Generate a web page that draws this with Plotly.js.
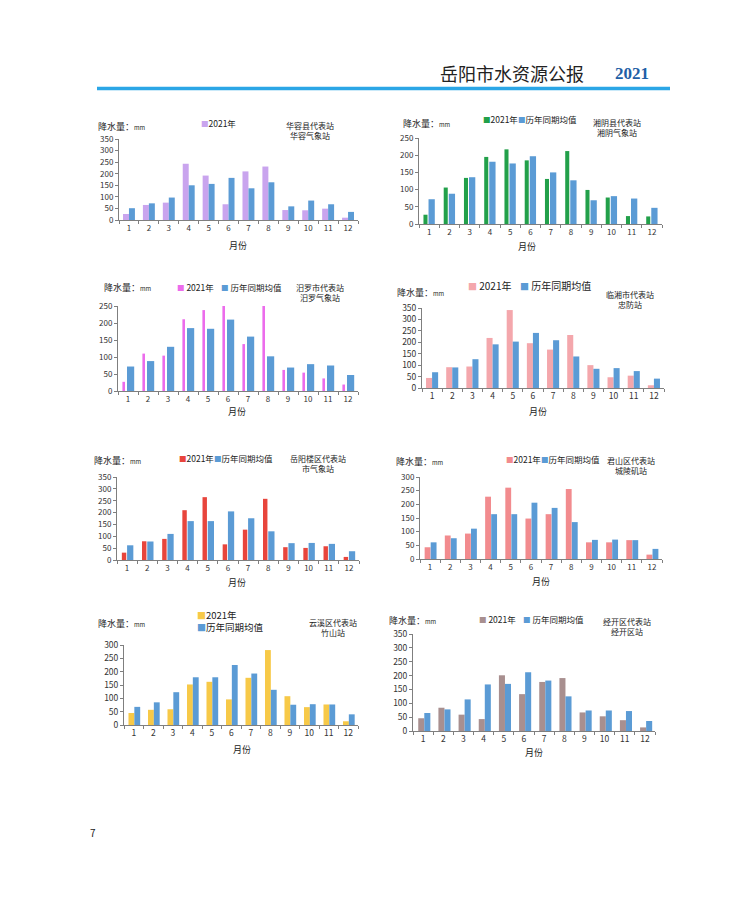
<!DOCTYPE html>
<html><head><meta charset="utf-8">
<script src="https://cdn.plot.ly/plotly-3.0.1.min.js"></script>
<style>html,body{margin:0;padding:0;background:#fff}#chart{width:750px;height:903px}</style>
</head><body><div id="chart"></div>
<script>
const months = ['1','2','3','4','5','6','7','8','9','10','11','12'];

const huarong2021 = [26, 65, 75, 243, 192, 68, 210, 231, 43, 42, 49, 10];
const huarongAvg  = [51, 72, 97, 150, 156, 182, 137, 163, 59, 84, 68, 35];

const xiangyin2021 = [27, 106, 134, 195, 217, 185, 131, 212, 99, 77, 23, 22];
const xiangyinAvg  = [72, 88, 136, 181, 176, 197, 150, 127, 69, 81, 74, 47];

const miluo2021 = [27, 110, 104, 211, 238, 251, 138, 251, 62, 54, 37, 19];
const miluoAvg  = [72, 88, 130, 185, 183, 210, 160, 102, 69, 79, 75, 47];

const linxiang2021 = [44, 91, 94, 219, 341, 196, 168, 232, 100, 47, 54, 12];
const linxiangAvg  = [69, 90, 126, 191, 203, 241, 209, 138, 84, 87, 74, 41];

const yueyanglou2021 = [31, 79, 89, 210, 265, 66, 128, 258, 54, 51, 58, 13];
const yueyanglouAvg  = [62, 78, 110, 164, 164, 205, 176, 121, 71, 72, 68, 37];

const junshan2021 = [43, 86, 93, 228, 261, 148, 164, 256, 61, 61, 69, 16];
const junshanAvg  = [61, 76, 111, 164, 164, 206, 187, 135, 70, 71, 69, 37];

const yunxi2021 = [45, 57, 59, 152, 162, 96, 177, 281, 108, 67, 77, 14];
const yunxiAvg  = [68, 85, 123, 179, 179, 225, 193, 132, 76, 78, 77, 40];

const jingkai2021 = [46, 84, 59, 43, 201, 133, 177, 191, 67, 53, 39, 13];
const jingkaiAvg  = [65, 78, 114, 168, 170, 212, 182, 125, 74, 74, 72, 36];

const seriesNames = ['2021年', '历年同期均值'];
const yLabel = '降水量：';
const xLabel = '月份';

const W = 750, H = 903;
const BLUE = '#5B9BD5';
const FONT = '"Noto Sans CJK SC", "Noto Sans", sans-serif';

const panels = [
  {d21: huarong2021, avg: huarongAvg, c21: '#C9A4EE', ymax: 350,
   x0: 119, x1: 358, yt: 139, yb: 220, o21: -0.3, w21: 0.3, oA: 0, wA: 0.3, tf: 8,
   st: ['华容县代表站', '华容气象站'], stx: 310, sty: 130,
   yl: [97, 126], leg: 'single', lx: 200, ly: 123, xl: [238, 245]},
  {d21: xiangyin2021, avg: xiangyinAvg, c21: '#22A04A', ymax: 250,
   x0: 419, x1: 662, yt: 138, yb: 224, o21: -0.28, w21: 0.2, oA: -0.03, wA: 0.31, tf: 8,
   st: ['湘阴县代表站', '湘阴气象站'], stx: 617, sty: 127,
   yl: [402, 124], leg: 'row', lx: 482, ly: 119, gap: 0, xl: [527, 246]},
  {d21: miluo2021, avg: miluoAvg, c21: '#EC6CEC', ymax: 250,
   x0: 118, x1: 358, yt: 306, yb: 391, o21: -0.28, w21: 0.13, oA: -0.05, wA: 0.36, tf: 8,
   st: ['汨罗市代表站', '汨罗气象站'], stx: 320, sty: 292,
   yl: [103, 287], leg: 'row', lx: 176, ly: 287, gap: 44, xl: [237, 412]},
  {d21: linxiang2021, avg: linxiangAvg, c21: '#F4A7AC', ymax: 350,
   x0: 422, x1: 664, yt: 308, yb: 388, o21: -0.3, w21: 0.3, oA: 0, wA: 0.3, tf: 8.5, big: true,
   st: ['临湘市代表站', '忠防站'], stx: 630, sty: 299,
   yl: [396, 293], leg: 'row', lx: 467, ly: 286, gap: 52, xl: [538, 411]},
  {d21: yueyanglou2021, avg: yueyanglouAvg, c21: '#E8453C', ymax: 350,
   x0: 117, x1: 359, yt: 477, yb: 560, o21: -0.26, w21: 0.22, oA: 0.0, wA: 0.31, tf: 8,
   st: ['岳阳楼区代表站', '市气象站'], stx: 318, sty: 463,
   yl: [93, 460], leg: 'row', lx: 178, ly: 458, gap: 0, xl: [237, 582]},
  {d21: junshan2021, avg: junshanAvg, c21: '#F28B8E', ymax: 300,
   x0: 420, x1: 662, yt: 477, yb: 559, o21: -0.27, w21: 0.29, oA: 0.03, wA: 0.29, tf: 8,
   st: ['君山区代表站', '城陵矶站'], stx: 631, sty: 465,
   yl: [395, 461], leg: 'row', lx: 505, ly: 459, gap: 0, xl: [541, 581]},
  {d21: yunxi2021, avg: yunxiAvg, c21: '#F7C948', ymax: 300,
   x0: 124, x1: 358, yt: 645, yb: 725, o21: -0.27, w21: 0.3, oA: 0.03, wA: 0.3, tf: 8.5, big: true,
   st: ['云溪区代表站', '竹山站'], stx: 333, sty: 627,
   yl: [97, 623], leg: 'col', lx: 196, ly: 621, xl: [242, 749]},
  {d21: jingkai2021, avg: jingkaiAvg, c21: '#A88F8F', ymax: 350,
   x0: 413, x1: 655, yt: 634, yb: 731, o21: -0.24, w21: 0.3, oA: 0.06, wA: 0.3, tf: 8.5,
   st: ['经开区代表站', '经开区站'], stx: 627, sty: 626,
   yl: [388, 620], leg: 'row', lx: 478, ly: 619, gap: 44, xl: [534, 752]}
];

const px = x => x / W;
const py = y => 1 - y / H;

const data = [];
const layout = {
  width: W, height: H,
  margin: {l: 0, r: 0, t: 0, b: 0},
  paper_bgcolor: '#fff', plot_bgcolor: 'rgba(0,0,0,0)',
  showlegend: false, barmode: 'overlay',
  font: {family: FONT, color: '#333'},
  annotations: [], shapes: []
};
const ann = (text, x, y, size, xa, extra) => layout.annotations.push(Object.assign({
  text, x: px(x), y: py(y), xref: 'paper', yref: 'paper', showarrow: false,
  xanchor: xa || 'center', yanchor: 'middle', borderpad: 0,
  font: {size, family: FONT, color: '#222'}
}, extra || {}));

panels.forEach((p, i) => {
  const n = i === 0 ? '' : String(i + 1);
  data.push({type: 'bar', x: months, y: p.d21, xaxis: 'x' + n, yaxis: 'y' + n,
    name: seriesNames[0], offset: p.o21, width: p.w21,
    marker: {color: p.c21, line: {width: 0}}, hoverinfo: 'y'});
  data.push({type: 'bar', x: months, y: p.avg, xaxis: 'x' + n, yaxis: 'y' + n,
    name: seriesNames[1], offset: p.oA, width: p.wA,
    marker: {color: BLUE, line: {width: 0}}, hoverinfo: 'y'});
  layout['xaxis' + n] = {
    domain: [px(p.x0), px(p.x1)], anchor: 'y' + n, type: 'category',
    range: [-0.5, 11.5], showline: true, linecolor: '#7f7f7f', linewidth: 1,
    ticks: 'outside', tickson: 'boundaries', ticklen: 3, tickcolor: '#7f7f7f',
    showgrid: false, zeroline: false, fixedrange: true,
    tickfont: {size: p.tf, color: '#333', family: FONT}
  };
  layout['yaxis' + n] = {
    domain: [py(p.yb), py(p.yt)], anchor: 'x' + n,
    range: [0, p.ymax], dtick: 50, showline: true, linecolor: '#7f7f7f', linewidth: 1,
    ticks: 'outside', ticklen: 3, tickcolor: '#7f7f7f', showgrid: false, zeroline: false,
    fixedrange: true, tickfont: {size: p.tf, color: '#333', family: FONT}
  };
  const fs = p.big ? 10 : 8.5;
  ann(yLabel + '<span style="font-size:6px">mm</span>', p.yl[0], p.yl[1], 9, 'left');
  ann(p.st[0] + '<br>' + p.st[1], p.stx, p.sty, 8);
  ann(xLabel, p.xl[0], p.xl[1], 9);
  const sq = c => '<span style="color:' + c + ';font-size:' + (fs - 1) + 'px">■</span>';
  if (p.leg === 'single') {
    ann(sq(p.c21) + seriesNames[0], p.lx, p.ly, fs, 'left');
  } else if (p.leg === 'col') {
    ann(sq(p.c21) + seriesNames[0] + '<br>' + sq(BLUE) + seriesNames[1], p.lx, p.ly, 9.5, 'left', {align: 'left'});
  } else if (p.gap === 0) {
    ann(sq(p.c21) + seriesNames[0] + sq(BLUE) + seriesNames[1], p.lx, p.ly, fs, 'left');
  } else {
    ann(sq(p.c21) + ' ' + seriesNames[0], p.lx, p.ly, fs, 'left');
    ann(sq(BLUE) + ' ' + seriesNames[1], p.lx + p.gap, p.ly, fs, 'left');
  }
});

// header
ann('岳阳市水资源公报', 512, 73, 18);
ann('<b>2021</b>', 632, 73, 17, 'center', {font: {size: 17, family: '"Liberation Serif", serif', color: '#1F5FA6'}});
layout.shapes.push({type: 'line', xref: 'paper', yref: 'paper',
  x0: px(97), x1: px(670), y0: py(88.5), y1: py(88.5), line: {color: '#2BA6E6', width: 3.5}});
ann('7', 93, 832, 10);

Plotly.newPlot('chart', data, layout, {displayModeBar: false, staticPlot: true});
</script>
</body></html>
